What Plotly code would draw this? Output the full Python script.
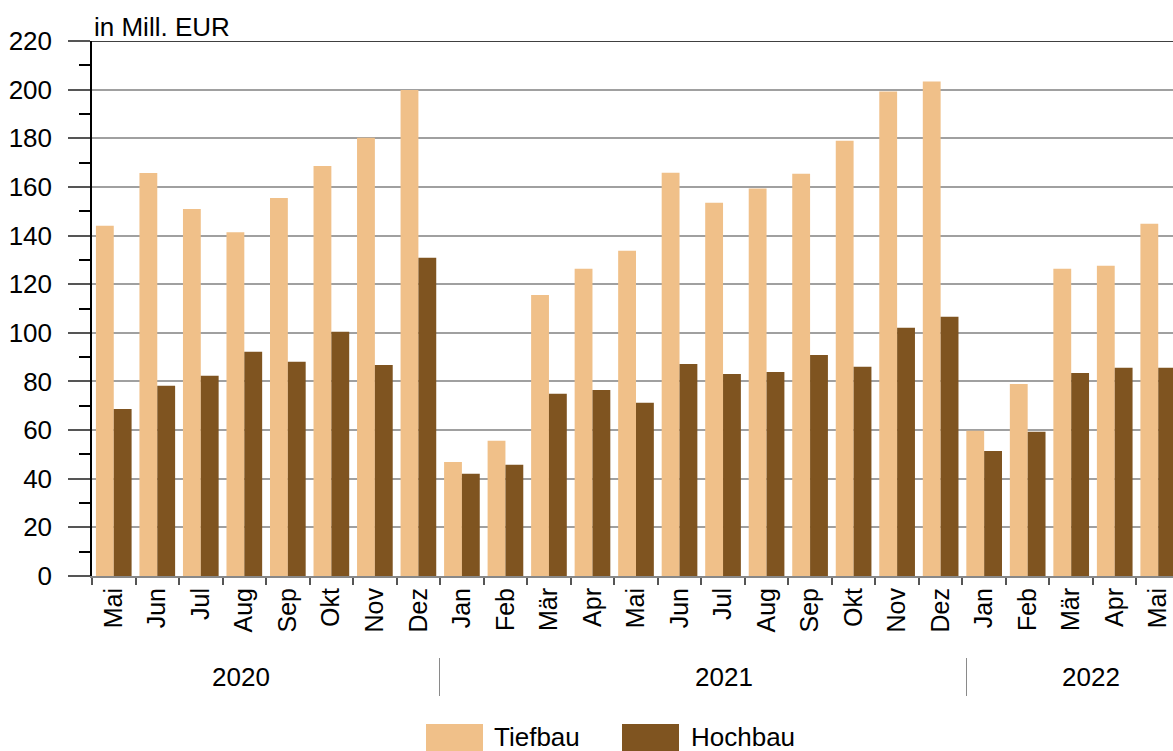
import plotly.graph_objects as go

# ---- data ----
months = ["Mai", "Jun", "Jul", "Aug", "Sep", "Okt", "Nov", "Dez",
          "Jan", "Feb", "Mär", "Apr", "Mai", "Jun", "Jul", "Aug", "Sep", "Okt", "Nov", "Dez",
          "Jan", "Feb", "Mär", "Apr", "Mai"]
years = ["2020"] * 8 + ["2021"] * 12 + ["2022"] * 5
tiefbau = [144.0, 165.7, 150.9, 141.4, 155.4, 168.6, 180.2, 199.8,
           46.9, 55.6, 115.6, 126.3, 133.7, 165.8, 153.5, 159.3, 165.4, 179.0, 199.2, 203.3,
           59.7, 79.0, 126.3, 127.6, 144.9]
hochbau = [68.7, 78.2, 82.3, 92.2, 88.1, 100.4, 86.8, 130.9,
           42.0, 45.7, 74.9, 76.5, 71.2, 87.2, 83.1, 83.9, 90.9, 86.0, 102.1, 106.6,
           51.4, 59.3, 83.5, 85.6, 85.6]
series_names = ["Tiefbau", "Hochbau"]
series_colors = ["#F0C089", "#7F5420"]
year_labels = ["2020", "2021", "2022"]
unit_label = "in Mill. EUR"

# ---- layout geometry (pixels in the 1173x751 window; plot runs past the right edge) ----
PLOT_L, PLOT_R, PLOT_T, PLOT_B = 92, 1180, 41, 576
W, H = PLOT_R, 751
L, T, R, B = PLOT_L, PLOT_T, 0, H - PLOT_B
PW, PH = PLOT_R - PLOT_L, PLOT_B - PLOT_T
FONT = "Liberation Sans, Arial, sans-serif"


def px_x(x):
    return (x - PLOT_L) / PW


def px_y(y):
    return (PLOT_B - y) / PH


keys = [f"{y}-{m}-{i}" for i, (y, m) in enumerate(zip(years, months))]

fig = go.Figure()
for name, vals, col in zip(series_names, [tiefbau, hochbau], series_colors):
    fig.add_trace(go.Bar(x=keys, y=vals, name=name, marker=dict(color=col, line=dict(width=0)),
                         showlegend=False))

shapes = []
annotations = []

# top border line at 220
shapes.append(dict(type="line", xref="paper", yref="y", x0=0, x1=1, y0=220, y1=220,
                   line=dict(color="black", width=1.5), layer="above"))

# year labels and separators
year_px = [241, 724, 1090.5]
for lab, xp in zip(year_labels, year_px):
    annotations.append(dict(text=lab, xref="paper", yref="paper", x=px_x(xp), y=px_y(676.5),
                            xanchor="center", yanchor="middle", showarrow=False,
                            font=dict(family=FONT, size=26, color="black")))
for xp in [439.5, 966.5]:
    shapes.append(dict(type="line", xref="paper", yref="paper", x0=px_x(xp), x1=px_x(xp),
                       y0=px_y(658), y1=px_y(696), line=dict(color="#8a8a8a", width=1)))

# unit label
annotations.append(dict(text=unit_label, xref="paper", yref="paper", x=0, y=1,
                        xanchor="left", yanchor="bottom", yshift=-3, showarrow=False,
                        font=dict(family=FONT, size=26, color="black")))

# custom legend
sw = [(426, 483, 492), (622, 679, 689)]
for (x0, x1, xt), name, col in zip(sw, series_names, series_colors):
    shapes.append(dict(type="rect", xref="paper", yref="paper", x0=px_x(x0), x1=px_x(x1),
                       y0=px_y(724), y1=px_y(751), fillcolor=col, line=dict(width=0)))
    annotations.append(dict(text=name, xref="paper", yref="paper", x=px_x(xt), y=px_y(737),
                            xanchor="left", yanchor="middle", showarrow=False,
                            font=dict(family=FONT, size=26, color="black")))

fig.update_layout(
    width=W, height=H, autosize=False,
    margin=dict(l=L, r=R, t=T, b=B, pad=0),
    plot_bgcolor="white", paper_bgcolor="white",
    barmode="group", bargap=0.18, bargroupgap=0,
    font=dict(family=FONT, size=26, color="black"),
    shapes=shapes, annotations=annotations,
    showlegend=False,
)
fig.update_xaxes(
    type="category", range=[-0.5, 24.5],
    tickvals=keys, ticktext=months, tickangle=-90,
    tickfont=dict(family=FONT, size=25, color="black"),
    ticks="outside", tickson="boundaries", ticklen=7, tickcolor="#555555", tickwidth=1.5,
    showline=True, linecolor="#888888", linewidth=2,
    showgrid=False, zeroline=False,
)
fig.update_yaxes(
    range=[0, 220], dtick=20, tick0=0,
    tickfont=dict(family=FONT, size=26, color="black"),
    ticks="outside", ticklen=22, tickcolor="#555555", tickwidth=1.5,
    ticklabelstandoff=11,
    showline=True, linecolor="black", linewidth=1.5,
    showgrid=True, gridcolor="#a0a0a0", gridwidth=1.5,
    zeroline=False,
    minor=dict(dtick=10, tick0=0, ticks="outside", ticklen=11, tickcolor="black", tickwidth=1.5,
               showgrid=False),
)

fig.write_html(
    "out.html",
    config={"displayModeBar": False},
    post_script="document.body.style.margin='0';document.body.style.overflow='hidden';",
)
